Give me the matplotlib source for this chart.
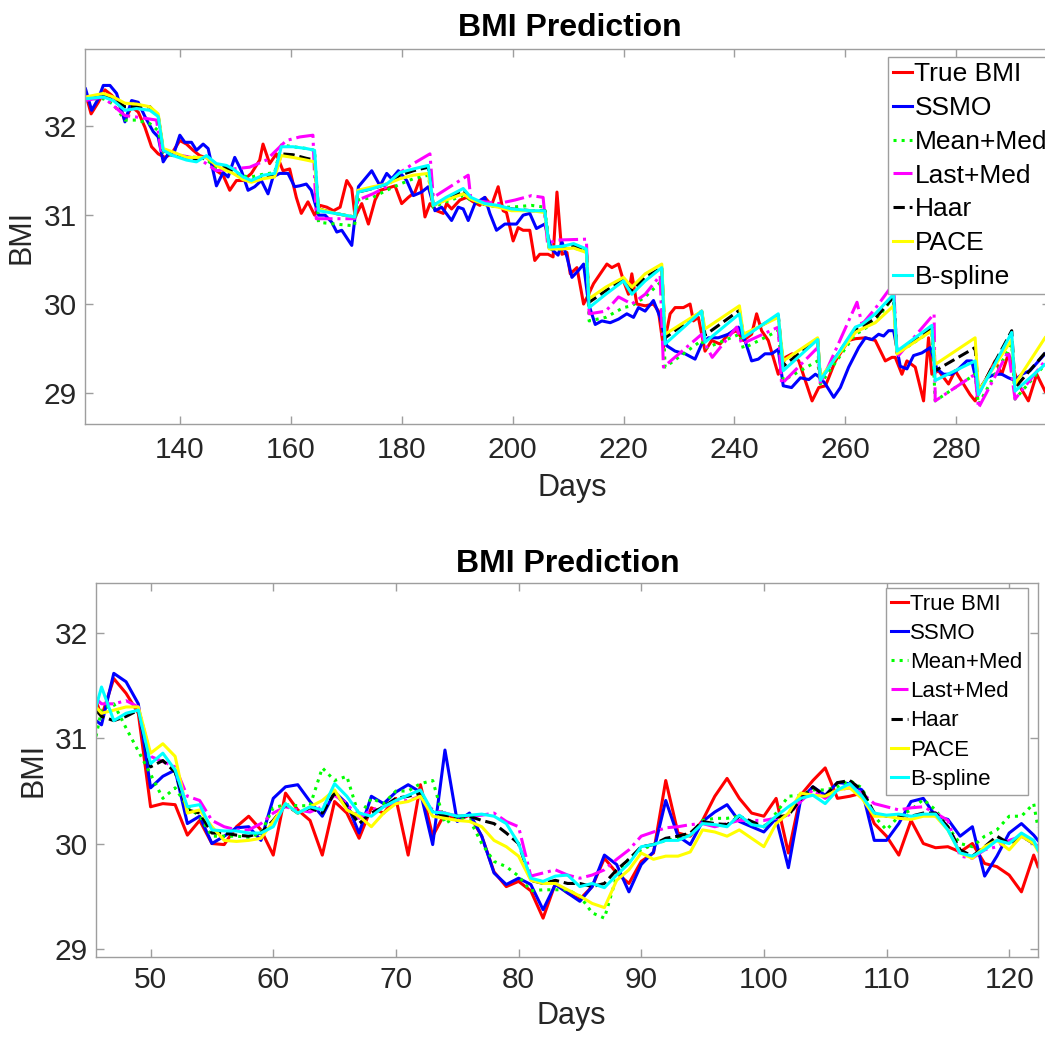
import numpy as np
import matplotlib
matplotlib.use('Agg')
import matplotlib.pyplot as plt

plt.rcParams['font.family'] = ['Liberation Sans', 'DejaVu Sans']

# ---------------- top panel (days 123-296) ----------------
top_true_days = [123, 124, 125.3, 126.5, 127.7, 128.9, 130.1, 131.3, 132.5, 133.7,
                 134.9, 136.1, 137.3, 138.5, 140, 141.2, 142.4, 143.6, 145.1, 146.6,
                 147.8, 149, 150.2, 151.4, 152.9, 154.4, 155, 156.2, 157.4, 158.6,
                 159.8, 161, 161.9, 163.1, 164.3, 165.3, 166.5, 167.7, 168.9, 170.1,
                 171, 171.6, 172.8, 174, 175.2, 176.1, 177.3, 178.8, 180, 181.2,
                 182.4, 183.3, 184.2, 185.1, 186.3, 187.5, 188.1, 189, 190.5, 191.7,
                 192.9, 194.1, 195, 196.2, 197.4, 198.3, 198.9, 200.1, 201, 201.9,
                 203.1, 204, 204.9, 206.4, 207.3, 208, 208.9, 209.8, 210.4, 211.6,
                 212.8, 213.7, 214.6, 215.8, 217, 217.9, 219.1, 220, 220.9, 221.5,
                 222.4, 223.9, 225.4, 226.3, 227.2, 228.4, 229.3, 230.8, 232, 232.6,
                 233.5, 234.7, 235.9, 237.4, 238.9, 240.4, 241.6, 243.1, 244, 244.9,
                 246.1, 247, 247.9, 249.2, 250.4, 251.6, 254, 255.2, 256.4, 257,
                 258.2, 260.6, 261.8, 263.6, 265.4, 267.2, 268.4, 269, 270.2, 271.1,
                 272.6, 274.1, 275, 275.6, 276.8, 278.6, 279.8, 282.5, 283.4, 287,
                 288.2, 289.4, 291.2, 293, 294.5, 296]
top_true_bmi = [32.37, 32.14, 32.27, 32.41, 32.35, 32.27, 32.07, 32.22, 32.16, 31.99,
                31.77, 31.69, 31.65, 31.69, 31.84, 31.80, 31.73, 31.67, 31.64, 31.50,
                31.45, 31.28, 31.39, 31.39, 31.47, 31.62, 31.80, 31.58, 31.69, 31.50,
                31.52, 31.20, 31.02, 31.15, 31.00, 31.11, 31.09, 31.05, 31.09, 31.39,
                31.30, 30.98, 31.13, 30.90, 31.17, 31.28, 31.30, 31.33, 31.13, 31.20,
                31.26, 31.41, 30.98, 31.13, 31.05, 31.02, 31.13, 31.07, 31.17, 31.20,
                31.15, 31.11, 31.20, 31.11, 31.32, 31.05, 31.03, 30.71, 30.86, 30.83,
                30.83, 30.49, 30.56, 30.56, 30.53, 31.26, 30.56, 30.58, 30.34, 30.41,
                30.00, 30.11, 30.23, 30.34, 30.45, 30.41, 30.45, 30.26, 30.11, 30.34,
                30.00, 29.98, 30.00, 29.92, 29.51, 29.89, 29.96, 29.96, 30.00, 29.81,
                29.85, 29.47, 29.59, 29.55, 29.66, 29.70, 29.59, 29.66, 29.89, 29.70,
                29.59, 29.40, 29.21, 29.40, 29.44, 29.36, 28.91, 29.06, 29.08, 29.17,
                29.36, 29.59, 29.61, 29.62, 29.59, 29.36, 29.40, 29.40, 29.21, 29.36,
                29.29, 28.91, 29.62, 29.21, 29.25, 29.10, 29.25, 28.98, 28.91, 29.36,
                29.21, 29.44, 29.10, 28.91, 29.21, 29.02]

top_ssmo_days = [123, 124.1, 125.3, 126.2, 127.4, 128.6, 130.1, 131.3, 132.5, 133.7,
                 135.2, 136.1, 137, 137.9, 138.8, 140, 140.9, 142.1, 143, 144.2,
                 145.1, 146.6, 147.8, 148.7, 149.9, 151.1, 152.3, 153.5, 154.7, 155.9,
                 156.8, 158, 159.5, 160.7, 161.6, 162.8, 163.7, 165, 166.2, 167.4,
                 168.3, 169.2, 171, 172.2, 173.4, 174.6, 176.1, 177.3, 178.2, 179.4,
                 180.9, 182.1, 183.6, 184.8, 186, 187.2, 189, 190.2, 191.1, 192,
                 193.2, 195, 195.9, 197.1, 198.6, 200.7, 201.9, 203.1, 204.3, 205.8,
                 207, 208.2, 208.9, 209.8, 210.7, 211.9, 212.8, 213.7, 214.9, 216.1,
                 217.6, 219.1, 220.6, 221.8, 222.7, 223.9, 225.4, 226.6, 227.8, 229.3,
                 231.1, 232.9, 234.1, 235.3, 237.1, 238.9, 240.7, 241.9, 243.1, 244.3,
                 245.5, 246.7, 247.9, 248.8, 250.3, 251.9, 253.4, 254.6, 255.5, 256.4,
                 257.9, 259.1, 260.6, 262.4, 263.6, 264.8, 266, 266.9, 267.8, 268.7,
                 269.9, 271.1, 272.3, 273.8, 275.3, 276.5, 277.7, 279.2, 280.4, 281.9,
                 282.8, 284, 285.5, 287, 288.2, 289.4, 290.6, 291.8, 293.3, 296]
top_ssmo = [32.42, 32.18, 32.31, 32.46, 32.46, 32.37, 32.05, 32.29, 32.27, 32.11,
            31.94, 31.88, 31.60, 31.69, 31.67, 31.90, 31.82, 31.82, 31.73, 31.80,
            31.75, 31.33, 31.48, 31.43, 31.65, 31.50, 31.28, 31.32, 31.39, 31.24,
            31.43, 31.47, 31.47, 31.32, 31.33, 31.35, 31.28, 31.00, 31.00, 30.92,
            30.81, 30.83, 30.66, 31.32, 31.41, 31.50, 31.33, 31.47, 31.41, 31.50,
            31.39, 31.22, 31.26, 31.32, 31.05, 31.09, 30.94, 31.09, 31.07, 30.94,
            31.13, 31.20, 31.02, 30.83, 30.90, 30.90, 31.00, 31.02, 30.85, 30.90,
            30.62, 30.55, 30.70, 30.53, 30.30, 30.38, 30.45, 30.00, 29.77, 29.81,
            29.79, 29.83, 29.89, 29.85, 29.96, 29.92, 30.04, 29.85, 29.53, 29.47,
            29.44, 29.38, 29.55, 29.62, 29.62, 29.66, 29.74, 29.59, 29.36, 29.38,
            29.44, 29.44, 29.49, 29.08, 29.06, 29.17, 29.15, 29.21, 29.17, 29.10,
            28.95, 29.06, 29.29, 29.51, 29.62, 29.60, 29.66, 29.64, 29.70, 29.70,
            29.30, 29.27, 29.42, 29.45, 29.51, 29.27, 29.21, 29.21, 29.27, 29.36,
            29.36, 29.02, 29.17, 29.21, 29.21, 29.17, 29.14, 29.21, 29.25, 29.44]

# knots shared by the smooth predictors (Mean+Med, Haar, PACE, B-spline)
top_pred_days = [123, 126.2, 128, 130.1, 132.2, 134.6, 136.1, 137, 138.8, 141.2,
                 143, 144.8, 146.6, 148.4, 149.6, 151.4, 152.9, 155, 157.1, 158.3,
                 160.4, 162.8, 164.3, 165, 168, 171.5, 172.1, 174.8, 177.3, 179.7,
                 182.1, 184.8, 185.7, 188, 191.1, 192.5, 195, 197.4, 199.8, 203.4,
                 205.8, 206.6, 209, 211, 213.3, 213.8, 216.8, 220, 221.5, 223.9,
                 226.9, 227.5, 234.1, 234.7, 240.9, 241.6, 247.9, 248.8, 255, 255.5,
                 261.8, 263, 265.4, 268.7, 269.3, 275.6, 276.2, 283.4, 284, 290,
                 290.6, 296]
top_mean_med = [32.31, 32.31, 32.25, 32.07, 32.07, 32.03, 31.95, 31.71, 31.67, 31.66,
                31.65, 31.63, 31.52, 31.51, 31.50, 31.44, 31.43, 31.46, 31.48, 31.79,
                31.77, 31.75, 31.73, 30.92, 30.90, 30.88, 31.17, 31.20, 31.28, 31.35,
                31.41, 31.45, 31.09, 31.15, 31.22, 31.17, 31.12, 31.09, 31.09, 31.11,
                31.09, 30.62, 30.62, 30.63, 30.60, 29.81, 29.85, 29.96, 29.98, 30.08,
                30.26, 29.29, 29.59, 29.50, 29.66, 29.50, 29.70, 29.14, 29.36, 29.10,
                29.66, 29.70, 29.81, 30.08, 29.44, 29.70, 28.91, 29.21, 28.87, 29.55,
                28.93, 29.32]
top_haar = [32.32, 32.35, 32.31, 32.22, 32.22, 32.22, 32.12, 31.73, 31.69, 31.64,
            31.63, 31.65, 31.57, 31.53, 31.49, 31.41, 31.39, 31.43, 31.45, 31.69,
            31.68, 31.64, 31.62, 31.07, 31.02, 30.98, 31.26, 31.30, 31.35, 31.45,
            31.50, 31.54, 31.11, 31.18, 31.28, 31.18, 31.12, 31.10, 31.07, 31.05,
            31.05, 30.63, 30.63, 30.65, 30.60, 30.02, 30.15, 30.28, 30.15, 30.30,
            30.41, 29.62, 29.92, 29.65, 29.93, 29.64, 29.87, 29.30, 29.61, 29.15,
            29.72, 29.74, 29.84, 30.08, 29.46, 29.73, 29.25, 29.51, 29.00, 29.70,
            29.06, 29.45]
top_pace = [32.33, 32.37, 32.33, 32.26, 32.25, 32.22, 32.14, 31.75, 31.71, 31.65,
            31.65, 31.65, 31.56, 31.50, 31.47, 31.40, 31.37, 31.41, 31.43, 31.67,
            31.65, 31.62, 31.60, 31.07, 31.02, 30.98, 31.28, 31.32, 31.35, 31.41,
            31.45, 31.47, 31.11, 31.17, 31.24, 31.18, 31.12, 31.09, 31.05, 31.05,
            31.03, 30.62, 30.62, 30.63, 30.58, 30.06, 30.19, 30.30, 30.19, 30.34,
            30.45, 29.66, 29.92, 29.72, 29.98, 29.66, 29.85, 29.36, 29.62, 29.17,
            29.68, 29.72, 29.79, 29.98, 29.44, 29.70, 29.32, 29.62, 29.02, 29.60,
            29.10, 29.62]
top_bspline = [32.31, 32.33, 32.29, 32.18, 32.20, 32.18, 32.11, 31.73, 31.67, 31.62,
               31.60, 31.67, 31.58, 31.56, 31.52, 31.43, 31.39, 31.45, 31.47, 31.77,
               31.77, 31.75, 31.73, 31.05, 31.02, 30.98, 31.26, 31.30, 31.35, 31.48,
               31.52, 31.56, 31.11, 31.20, 31.30, 31.20, 31.13, 31.11, 31.07, 31.05,
               31.05, 30.64, 30.65, 30.68, 30.62, 29.96, 30.11, 30.26, 30.11, 30.26,
               30.41, 29.55, 29.92, 29.57, 29.89, 29.62, 29.89, 29.25, 29.60, 29.14,
               29.74, 29.77, 29.89, 30.11, 29.47, 29.76, 29.14, 29.36, 28.98, 29.68,
               29.02, 29.32]

top_last_days = [123, 126.2, 130.1, 131.6, 135.8, 136.6, 138.8, 143.6, 146.6, 149.6,
                 152.6, 155.6, 157.4, 159.2, 161.6, 164, 164.6, 171.5, 172.1, 174.8,
                 177.3, 179.7, 182.1, 185.1, 185.7, 192, 192.5, 195, 197.4, 200.4,
                 203.4, 205.5, 206.3, 208, 213.3, 213.8, 216.8, 219.1, 221.5, 223.9,
                 226.6, 227.2, 234.1, 234.7, 236, 240.4, 241.3, 247.9, 248.5, 255,
                 255.5, 262.1, 263, 265.4, 268.7, 269.3, 276, 276.2, 283.4, 284,
                 289.4, 290.6, 296]
top_last_med = [32.29, 32.33, 32.12, 32.11, 32.07, 31.73, 31.69, 31.63, 31.50, 31.52,
                31.54, 31.62, 31.73, 31.84, 31.88, 31.90, 30.96, 30.96, 31.17, 31.24,
                31.32, 31.48, 31.58, 31.69, 31.20, 31.45, 31.17, 31.15, 31.13, 31.17,
                31.22, 31.20, 30.68, 30.72, 30.73, 29.89, 29.92, 30.08, 30.00, 30.11,
                30.32, 29.29, 29.66, 29.55, 29.40, 29.74, 29.55, 29.74, 29.10, 29.51,
                29.10, 30.02, 29.77, 29.95, 30.23, 29.40, 29.89, 28.91, 29.21, 28.83,
                29.47, 28.93, 29.36]

# ---------------- bottom panel (days 46-122, daily) ----------------
bot_days = np.r_[45.55, np.arange(46, 123), 122.35]
bot_true = [31.36, 31.21, 31.57, 31.43, 31.24,
            30.35, 30.38, 30.37, 30.08, 30.22, 30.00, 29.99, 30.16, 30.26, 30.13,
            29.89, 30.48, 30.32, 30.22, 29.89, 30.40, 30.29, 30.05, 30.34, 30.29,
            30.43, 29.89, 30.56, 30.07, 30.29, 30.22, 30.27, 30.07, 29.73, 29.59,
            29.64, 29.55, 29.29, 29.62, 29.53, 29.47, 29.59, 29.86, 29.72, 29.62,
            29.83, 29.91, 30.60, 30.10, 30.07, 30.22, 30.45, 30.62, 30.43, 30.29,
            30.26, 30.43, 29.91, 30.46, 30.60, 30.72, 30.43, 30.45, 30.48, 30.19,
            30.07, 29.89, 30.22, 30.00, 29.96, 29.97, 29.92, 30.00, 29.81, 29.78,
            29.70, 29.54, 29.89, 29.78]
bot_ssmo = [31.17, 31.13, 31.62, 31.54, 31.33,
            30.53, 30.64, 30.70, 30.19, 30.26, 30.00, 30.07, 30.15, 30.16, 30.03,
            30.43, 30.54, 30.56, 30.40, 30.26, 30.49, 30.38, 30.10, 30.45, 30.38,
            30.49, 30.56, 30.49, 29.99, 30.89, 30.21, 30.29, 30.07, 29.72, 29.61,
            29.67, 29.61, 29.37, 29.61, 29.53, 29.45, 29.59, 29.89, 29.80, 29.54,
            29.80, 29.92, 30.41, 30.07, 29.99, 30.21, 30.30, 30.37, 30.21, 30.16,
            30.11, 30.24, 29.77, 30.42, 30.54, 30.46, 30.58, 30.57, 30.51, 30.03,
            30.03, 30.19, 30.40, 30.43, 30.26, 30.23, 30.07, 30.16, 29.69, 29.88,
            30.10, 30.19, 30.08, 30.03]
bot_mean_med = [31.02, 31.27, 31.33, 31.10, 30.88,
                30.66, 30.43, 30.53, 30.35, 30.26, 30.07, 30.07, 30.07, 30.06, 30.10,
                30.34, 30.37, 30.36, 30.36, 30.72, 30.60, 30.64, 30.26, 30.43, 30.38,
                30.50, 30.50, 30.57, 30.60, 30.19, 30.26, 30.23, 30.00, 29.83, 29.78,
                29.69, 29.55, 29.56, 29.56, 29.56, 29.50, 29.34, 29.29, 29.69, 29.86,
                29.94, 29.99, 30.03, 30.05, 30.08, 30.22, 30.24, 30.24, 30.26, 30.18,
                30.16, 30.29, 30.45, 30.46, 30.51, 30.51, 30.54, 30.60, 30.53, 30.26,
                30.13, 30.26, 30.32, 30.42, 30.32, 30.16, 30.00, 29.97, 30.07, 30.13,
                30.26, 30.26, 30.38, 30.15]
bot_last_med = [31.38, 31.33, 31.33, 31.36, 31.30,
                30.83, 30.78, 30.73, 30.45, 30.41, 30.22, 30.16, 30.13, 30.13, 30.19,
                30.29, 30.35, 30.32, 30.30, 30.35, 30.46, 30.38, 30.24, 30.32, 30.35,
                30.40, 30.41, 30.45, 30.32, 30.29, 30.26, 30.26, 30.27, 30.29, 30.21,
                30.16, 29.69, 29.72, 29.75, 29.70, 29.67, 29.70, 29.75, 29.85, 29.94,
                30.07, 30.11, 30.15, 30.16, 30.18, 30.19, 30.16, 30.19, 30.22, 30.22,
                30.22, 30.24, 30.27, 30.40, 30.51, 30.43, 30.51, 30.53, 30.48, 30.38,
                30.35, 30.32, 30.34, 30.35, 30.29, 30.22, 29.88, 29.86, 29.94, 29.97,
                30.03, 30.07, 30.00, 29.97]
bot_haar = [31.27, 31.21, 31.17, 31.21, 31.27,
            30.73, 30.79, 30.68, 30.32, 30.29, 30.10, 30.10, 30.08, 30.07, 30.10,
            30.22, 30.37, 30.29, 30.34, 30.29, 30.48, 30.35, 30.19, 30.29, 30.35,
            30.43, 30.45, 30.48, 30.30, 30.26, 30.26, 30.26, 30.22, 30.19, 30.10,
            30.00, 29.65, 29.62, 29.65, 29.62, 29.62, 29.59, 29.62, 29.75, 29.85,
            29.97, 29.99, 30.05, 30.07, 30.10, 30.21, 30.19, 30.18, 30.26, 30.21,
            30.16, 30.25, 30.27, 30.42, 30.54, 30.45, 30.58, 30.60, 30.51, 30.29,
            30.26, 30.27, 30.26, 30.29, 30.29, 30.16, 29.94, 29.88, 29.97, 30.07,
            30.00, 30.07, 30.00, 29.97]
bot_pace = [31.30, 31.24, 31.27, 31.30, 31.30,
            30.86, 30.95, 30.83, 30.29, 30.32, 30.16, 30.03, 30.02, 30.03, 30.05,
            30.21, 30.38, 30.29, 30.35, 30.41, 30.51, 30.32, 30.26, 30.16, 30.29,
            30.38, 30.40, 30.45, 30.26, 30.24, 30.22, 30.21, 30.16, 30.03, 29.97,
            29.88, 29.65, 29.62, 29.62, 29.56, 29.50, 29.43, 29.39, 29.65, 29.75,
            29.91, 29.85, 29.88, 29.88, 29.92, 30.13, 30.11, 30.07, 30.13, 30.05,
            29.97, 30.19, 30.29, 30.48, 30.46, 30.45, 30.51, 30.53, 30.43, 30.26,
            30.26, 30.24, 30.23, 30.26, 30.26, 30.13, 29.91, 29.86, 29.97, 30.03,
            29.94, 30.07, 30.00, 29.93]
bot_bspline = [31.30, 31.49, 31.17, 31.24, 31.27,
               30.76, 30.86, 30.70, 30.35, 30.37, 30.13, 30.12, 30.12, 30.10, 30.10,
               30.16, 30.38, 30.29, 30.35, 30.32, 30.57, 30.45, 30.29, 30.26, 30.35,
               30.41, 30.46, 30.51, 30.30, 30.29, 30.26, 30.27, 30.28, 30.26, 30.19,
               30.00, 29.67, 29.64, 29.69, 29.70, 29.59, 29.62, 29.58, 29.70, 29.81,
               29.97, 29.99, 30.03, 30.03, 30.08, 30.19, 30.18, 30.16, 30.27, 30.18,
               30.16, 30.26, 30.35, 30.43, 30.46, 30.38, 30.51, 30.57, 30.45, 30.29,
               30.27, 30.28, 30.26, 30.28, 30.28, 30.13, 29.91, 29.88, 29.94, 30.03,
               30.00, 30.10, 30.03, 29.94]

labels = ['True BMI', 'SSMO', 'Mean+Med', 'Last+Med', 'Haar', 'PACE', 'B-spline']
colors = ['#ff0000', '#0000ff', '#00ff00', '#ff00ff', '#000000', '#ffff00', '#00ffff']
styles = ['-', '-', ':', '-.', '--', '-', '-']

top_series = [(top_true_days, top_true_bmi), (top_ssmo_days, top_ssmo),
              (top_pred_days, top_mean_med), (top_last_days, top_last_med),
              (top_pred_days, top_haar), (top_pred_days, top_pace),
              (top_pred_days, top_bspline)]
bot_series = [(bot_days, s) for s in [bot_true, bot_ssmo, bot_mean_med, bot_last_med,
                                      bot_haar, bot_pace, bot_bspline]]

W, H = 1045, 1040
fig = plt.figure(figsize=(W / 100, H / 100), dpi=100)
ax_top = fig.add_axes([85 / W, 1 - 424 / H, 965 / W, 375 / H])
ax_bot = fig.add_axes([96 / W, 1 - 957 / H, 942 / W, 374 / H])


def draw_panel(ax, series, xlim, ylim, xticks, xpad):
    for (x, y), lab, c, ls in zip(series, labels, colors, styles):
        ax.plot(x, y, color=c, linestyle=ls, linewidth=2.2, label=lab)
    ax.set_xlim(xlim)
    ax.set_ylim(ylim)
    ax.set_xticks(xticks)
    ax.set_yticks([29, 30, 31, 32])
    for s in ax.spines.values():
        s.set_color('0.62')
        s.set_linewidth(1.0)
    ax.tick_params(direction='in', length=6, width=1, color='0.62',
                   labelsize=21.5, labelcolor='#262626', top=True, right=True)
    ax.tick_params(axis='x', pad=xpad)
    ax.tick_params(axis='y', pad=6)


draw_panel(ax_top, top_series, (122.9, 296.9), (28.65, 32.87), range(140, 281, 20), 9)
draw_panel(ax_bot, bot_series, (45.55, 122.35), (28.92, 32.48), range(50, 121, 10), 6.5)

for ax, ylab_x, xlab_y in [(ax_top, -0.05, -0.13), (ax_bot, -0.05, -0.118)]:
    ax.set_xlabel('Days', fontsize=22, color='#262626')
    ax.set_ylabel('BMI', fontsize=22, color='#262626')
    ax.xaxis.set_label_coords(0.505, xlab_y)
    ax.yaxis.set_label_coords(ylab_x, 0.5)

fig.text(570 / W, 1 - 36.5 / H, 'BMI Prediction', ha='center', va='baseline',
         fontsize=23, fontweight='bold')
fig.text(568 / W, 1 - 571.5 / H, 'BMI Prediction', ha='center', va='baseline',
         fontsize=23, fontweight='bold')

leg_top = ax_top.legend(loc='upper left', bbox_to_anchor=((888 - 85) / 965, 1 - 8 / 375),
                        fontsize=19, handlelength=0.7, handletextpad=0.1,
                        labelspacing=0.37, borderpad=0.2, borderaxespad=0,
                        fancybox=False, edgecolor='0.62', framealpha=1)
leg_bot = ax_bot.legend(loc='upper right', bbox_to_anchor=((1028 - 96) / 942, 1 - 5 / 374),
                        fontsize=16, handlelength=0.77, handletextpad=0.08,
                        labelspacing=0.37, borderpad=0.25, borderaxespad=0,
                        fancybox=False, edgecolor='0.62', framealpha=1)
for leg in (leg_top, leg_bot):
    leg.get_frame().set_linewidth(1.0)

fig.savefig('out.png', dpi=100)
